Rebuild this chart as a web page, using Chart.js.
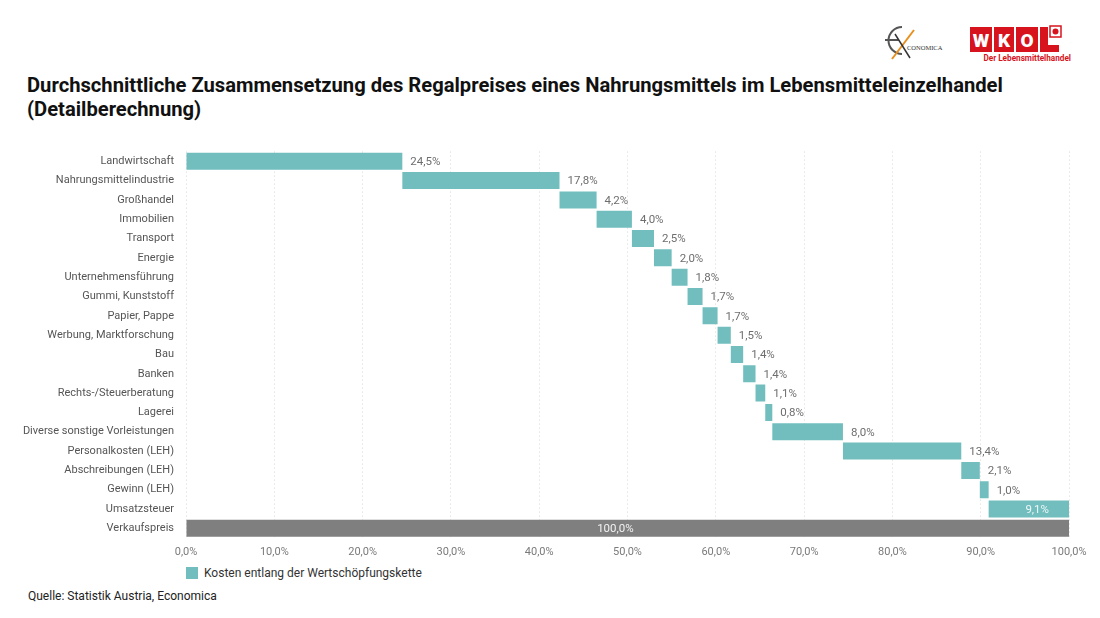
<!DOCTYPE html>
<html>
<head>
<meta charset="utf-8">
<script src="https://cdn.jsdelivr.net/npm/chart.js@4.4.1/dist/chart.umd.min.js"></script>
<style>
  html, body { margin:0; padding:0; background:#fff; }
  body { width:1100px; height:618px; position:relative; overflow:hidden; font-family: Roboto, "DejaVu Sans", sans-serif; }
  #title { position:absolute; left:27px; top:73px; font-weight:700; font-size:20.2px; line-height:24px; color:#111; letter-spacing:0px; }
  #wrap { position:absolute; left:0; top:133px; width:1100px; height:430px; }
  #legend { position:absolute; left:186px; top:566px; font-size:12px; color:#333; display:flex; align-items:center; }
  #legend span.box { display:inline-block; width:12px; height:12px; background:#72BEBE; margin-right:6px; }
  #source { position:absolute; left:28px; top:589px; font-size:12px; color:#222; }
  #logos { position:absolute; left:878px; top:20px; }
</style>
</head>
<body>
<svg id="logos" width="210" height="45" viewBox="0 0 210 45">
  <!-- Economica -->
  <path d="M24 7 A13 13 0 1 0 24 34" fill="none" stroke="#555" stroke-width="2"/>
  <line x1="7" y1="20" x2="21" y2="20" stroke="#555" stroke-width="2"/>
  <line x1="14" y1="39" x2="36" y2="10" stroke="#E8901E" stroke-width="2"/>
  <line x1="17" y1="14" x2="32" y2="38" stroke="#333" stroke-width="1.5"/>
  <text x="29" y="30" font-family="Liberation Serif, serif" font-size="6.5" fill="#333">CONOMICA</text>
  <!-- WKO -->
  <rect x="92" y="7" width="22" height="25" fill="#D7131D"/>
  <rect x="116" y="7" width="20" height="25" fill="#D7131D"/>
  <rect x="138" y="7" width="22" height="25" fill="#D7131D"/>
  <path d="M162 7 h8 v18 h11 v7 h-19 z" fill="#D7131D"/>
  <rect x="172" y="6" width="11" height="11" fill="#fff" stroke="#D7131D" stroke-width="1.5"/>
  <circle cx="177.5" cy="11.5" r="3" fill="#D7131D"/>
  <text x="103" y="27" text-anchor="middle" font-family="Roboto, sans-serif" font-weight="900" font-size="19" fill="#fff">W</text>
  <text x="126" y="27" text-anchor="middle" font-family="Roboto, sans-serif" font-weight="900" font-size="19" fill="#fff">K</text>
  <text x="149" y="27" text-anchor="middle" font-family="Roboto, sans-serif" font-weight="900" font-size="19" fill="#fff">O</text>
  <text x="193" y="41" text-anchor="end" font-family="Roboto, sans-serif" font-weight="700" font-size="8.2" fill="#D7131D">Der Lebensmittelhandel</text>
</svg>
<div id="title">Durchschnittliche Zusammensetzung des Regalpreises eines Nahrungsmittels im Lebensmitteleinzelhandel<br>(Detailberechnung)</div>
<div id="wrap"><canvas id="c"></canvas></div>
<div id="legend"><span class="box"></span>Kosten entlang der Wertschöpfungskette</div>
<div id="source">Quelle: Statistik Austria, Economica</div>
<script>
// ---- data ----
const categories = ["Landwirtschaft","Nahrungsmittelindustrie","Großhandel","Immobilien","Transport","Energie","Unternehmensführung","Gummi, Kunststoff","Papier, Pappe","Werbung, Marktforschung","Bau","Banken","Rechts-/Steuerberatung","Lagerei","Diverse sonstige Vorleistungen","Personalkosten (LEH)","Abschreibungen (LEH)","Gewinn (LEH)","Umsatzsteuer"];
const costValues = [24.5,17.8,4.2,4.0,2.5,2.0,1.8,1.7,1.7,1.5,1.4,1.4,1.1,0.8,8.0,13.4,2.1,1.0,9.1];
const totalLabel = "Verkaufspreis";
const totalValue = 100.0;
const xTicks = [0,10,20,30,40,50,60,70,80,90,100];

const TEAL = "#72BEBE", GREY = "#7F7F7F";
const fmt = v => v.toFixed(1).replace('.', ',') + '%';

const labels = categories.concat([totalLabel]);
const ranges = [];
let acc = 0;
costValues.forEach(v => { ranges.push([acc, acc + v]); acc += v; });
ranges.push([0, totalValue]);
const amounts = costValues.concat([totalValue]);
const colors = costValues.map(() => TEAL).concat([GREY]);

const labelPlugin = {
  id: 'barLabels',
  afterDatasetsDraw(chart) {
    const ctx = chart.ctx;
    const meta = chart.getDatasetMeta(0);
    ctx.save();
    ctx.font = '11.5px Roboto, "DejaVu Sans", sans-serif';
    ctx.textBaseline = 'middle';
    meta.data.forEach((el, i) => {
      const txt = fmt(amounts[i]);
      const right = Math.max(el.x, el.base);
      const left = Math.min(el.x, el.base);
      if (i === amounts.length - 1) {
        ctx.fillStyle = '#F2F2F2';
        ctx.textAlign = 'center';
        ctx.fillText(txt, left + (right - left) * 0.486, el.y + 1);
      } else if (i === amounts.length - 2) {
        ctx.fillStyle = '#EEF7F7';
        ctx.textAlign = 'right';
        ctx.fillText(txt, right - 20, el.y + 1);
      } else {
        ctx.fillStyle = '#6E6E6E';
        ctx.textAlign = 'left';
        ctx.fillText(txt, right + 8, el.y + 1);
      }
    });
    ctx.restore();
  }
};

new Chart(document.getElementById('c'), {
  type: 'bar',
  data: {
    labels: labels,
    datasets: [{
      label: 'Kosten entlang der Wertschöpfungskette',
      data: ranges,
      backgroundColor: colors,
      borderWidth: 0,
      barPercentage: 0.88,
      categoryPercentage: 1.0
    }]
  },
  options: {
    indexAxis: 'y',
    responsive: true,
    maintainAspectRatio: false,
    animation: false,
    layout: { padding: { left: 0, right: 31, top: 6, bottom: 0 } },
    plugins: { legend: { display: false }, tooltip: { enabled: false } },
    scales: {
      x: {
        min: 0, max: 100,
        afterBuildTicks: s => { s.ticks = xTicks.map(v => ({ value: v })); },
        afterFit: s => { s.height = 25; },
        grid: { color: '#D6D6D6', drawTicks: false, lineWidth: 1 },
        border: { display: false, dash: [1, 3] },
        ticks: { padding: 8, color: '#7A7A7A', font: { family: 'Roboto', size: 11 }, callback: v => fmt(v) }
      },
      y: {
        afterFit: s => { s.width = 186; },
        grid: { display: false, drawTicks: false },
        border: { display: false },
        ticks: { padding: 12, color: '#555', font: { family: 'Roboto', size: 11 }, autoSkip: false }
      }
    }
  },
  plugins: [labelPlugin]
});
</script>
</body>
</html>
